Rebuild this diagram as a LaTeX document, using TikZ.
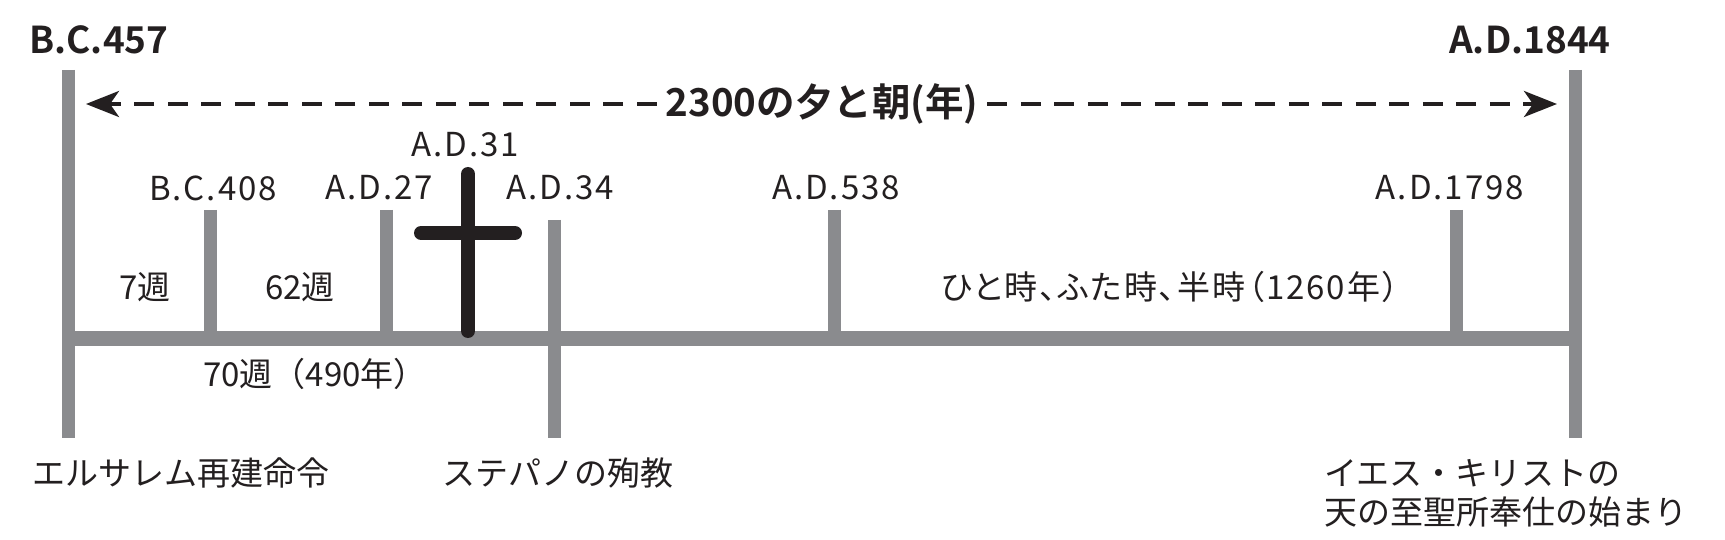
\documentclass[tikz,border=0pt]{standalone}
\usepackage{fontspec}
\setmainfont{Noto Sans CJK JP}[BoldFont={Noto Sans CJK JP Bold}]
\usetikzlibrary{arrows.meta}
\definecolor{barc}{HTML}{8A8B8E}
\definecolor{ink}{HTML}{231F20}
\begin{document}
\begin{tikzpicture}[x=1pt,y=-1pt,
  vbar/.style={draw=barc,line width=13pt},
  hbar/.style={draw=barc,line width=15pt},
  crossst/.style={draw=ink,line width=14pt,line cap=round},
  lbl/.style={text=ink,inner sep=0pt,font=\fontsize{33}{39}\selectfont},
  datelbl/.style={lbl,font=\fontsize{33}{39}\selectfont\addfontfeatures{LetterSpace=6}},
  blbl/.style={text=ink,inner sep=0pt,font=\fontsize{37}{44}\selectfont\bfseries},
  span/.style={draw=ink,line width=4pt,dash pattern=on 20pt off 13.5pt,
    -{Stealth[length=33pt,width=26pt,inset=9pt]}}]
\useasboundingbox[fill=white] (0,0) rectangle (1725,540);
% timeline coordinates
\coordinate (Ltop) at (68,70);   \coordinate (Lbot) at (68,438);
\coordinate (Rtop) at (1575,70); \coordinate (Rbot) at (1575,438);
\coordinate (Lmid) at (68,338);  \coordinate (Rmid) at (1575,338);
\coordinate (t408) at (210,210);  \coordinate (b408) at (210,338);
\coordinate (t27) at (386,210);   \coordinate (b27) at (386,338);
\coordinate (t34) at (554,220);   \coordinate (b34) at (554,438);
\coordinate (t538) at (834,210);  \coordinate (b538) at (834,338);
\coordinate (t1798) at (1456,210);\coordinate (b1798) at (1456,338);
\coordinate (ctop) at (468,174);  \coordinate (cbot) at (468,331);
\coordinate (cl) at (421,233);    \coordinate (cr) at (515,233);
\coordinate (arrL) at (86,104);   \coordinate (arrR) at (1557,104);
% bars
\draw[hbar] (Lmid) -- (Rmid);
\draw[vbar] (Ltop) -- (Lbot);
\draw[vbar] (Rtop) -- (Rbot);
\draw[vbar] (t408) -- (b408);
\draw[vbar] (t27) -- (b27);
\draw[vbar] (t34) -- (b34);
\draw[vbar] (t538) -- (b538);
\draw[vbar] (t1798) -- (b1798);
% cross
\draw[crossst] (ctop) -- (cbot);
\draw[crossst] (cl) -- (cr);
% labels
\node[blbl] (bc457) at (99,40) {B.C.457};
\node[blbl] (ad1844) at (1530,40) {A.D.1844};
\node[blbl,font=\fontsize{38.5}{44}\selectfont\bfseries,inner xsep=9pt] (title) at (822,104) {2300の夕と朝(年)};
\draw[span] (title.west) -- (arrL);
\draw[span] (title.east) -- (arrR);
\node[datelbl] (ad31) at (465,145) {A.D.31};
\node[datelbl] (bc408) at (213,188) {B.C.408};
\node[datelbl] (ad27) at (379,188) {A.D.27};
\node[datelbl] (ad34) at (560,188) {A.D.34};
\node[datelbl] (ad538) at (836,188) {A.D.538};
\node[datelbl] (ad1798) at (1450,188) {A.D.1798};
\node[lbl] (w7) at (145,287) {7週};
\node[lbl] (w62) at (300,287) {62週};
\node[lbl,font=\fontsize{33}{39}\selectfont\addfontfeatures{RawFeature=+palt,LetterSpace=6}] (period) at (1170,287) {ひと時、ふた時、半時（1260年）};
\node[lbl] (w70) at (315,374) {70週（490年）};
\node[lbl] (jer) at (181,473) {エルサレム再建命令};
\node[lbl] (steph) at (558,473) {ステパノの殉教};
\node[lbl,align=left,anchor=west] (jesus) at (1324,493) {イエス・キリストの\\天の至聖所奉仕の始まり};
\end{tikzpicture}
\end{document}
